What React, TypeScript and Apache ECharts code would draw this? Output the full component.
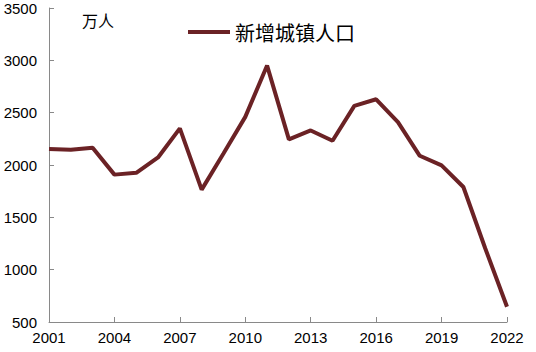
import React, { useEffect, useRef } from "react";
import * as echarts from "echarts";

const years = ["2001","2002","2003","2004","2005","2006","2007","2008","2009","2010","2011","2012","2013","2014","2015","2016","2017","2018","2019","2020","2021","2022"];
const newUrban = [2153, 2145, 2165, 1908, 1925, 2072, 2350, 1765, 2110, 2460, 2950, 2245, 2330, 2232, 2565, 2628, 2410, 2088, 1997, 1790, 1205, 646];
const seriesName = "新增城镇人口";
const unitLabel = "万人";

export default function App() {
  const ref = useRef<HTMLDivElement>(null);
  useEffect(() => {
    const chart = echarts.init(ref.current!, null, { renderer: "svg" });
    const axisColor = "#898989";
    chart.setOption({
      animation: false,
      textStyle: { fontFamily: "Liberation Sans, Arial, sans-serif" },
      grid: { left: 49, top: 8, right: 29, bottom: 30, containLabel: false },
      legend: {
        data: [seriesName],
        left: 183,
        top: 17,
        itemWidth: 42,
        itemHeight: 4,
        itemGap: 6,
        icon: "rect",
        textStyle: { fontSize: 20, color: "#000", fontFamily: "Noto Sans CJK SC" },
      },
      graphic: [
        {
          type: "text",
          left: 82,
          top: 12,
          style: { text: unitLabel, fontSize: 16, fill: "#000", fontFamily: "Noto Sans CJK SC" },
        },
      ],
      xAxis: {
        type: "category",
        data: years,
        boundaryGap: false,
        axisLine: { lineStyle: { color: axisColor, width: 1 } },
        axisTick: { inside: true, length: 5, interval: 2, lineStyle: { color: axisColor } },
        axisLabel: { interval: 2, color: "#000", fontSize: 15, margin: 8 },
      },
      yAxis: {
        type: "value",
        min: 500,
        max: 3500,
        interval: 500,
        axisLine: { show: true, lineStyle: { color: axisColor, width: 1 } },
        axisTick: { show: true, inside: true, length: 5, lineStyle: { color: axisColor } },
        axisLabel: { color: "#000", fontSize: 15, margin: 12, formatter: (v: number) => String(v) },
        splitLine: { show: false },
      },
      series: [
        {
          name: seriesName,
          type: "line",
          data: newUrban,
          showSymbol: false,
          symbol: "none",
          lineStyle: { color: "#6b2225", width: 4 },
          itemStyle: { color: "#6b2225" },
        },
      ],
    });
    return () => chart.dispose();
  }, []);
  return <div ref={ref} style={{ width: 536, height: 352, position: "absolute", left: 0, top: 0 }} />;
}
